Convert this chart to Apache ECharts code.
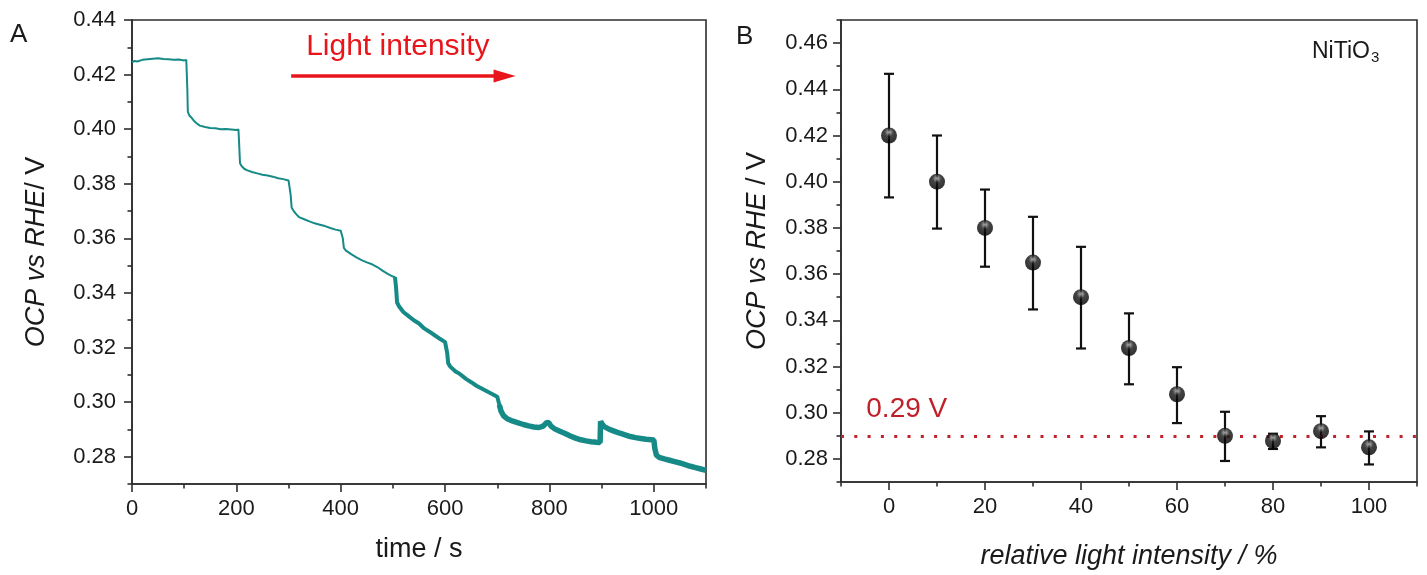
<!DOCTYPE html>
<html>
<head>
<meta charset="utf-8">
<script src="https://cdn.jsdelivr.net/npm/echarts@6/dist/echarts.min.js"></script>
<style>
  html, body { margin: 0; padding: 0; background: #fff; }
  #chart { width: 1427px; height: 575px; }
</style>
</head>
<body>
<div id="chart"></div>
<script>
// ---------- Panel A data: OCP transient ----------
const timeA = [0,5,10,20,30,40,50,60,70,80,90,100,104,106,107,110,115,120,125,130,140,150,160,170,180,190,200,204,
  205,207,210,215,220,230,240,250,260,270,280,290,300,303,
  304,306,310,315,320,330,340,350,360,370,380,390,400,403,
  404,406,410,420,430,440,450,460,470,480,490,500,504,
  506,508,512,520,530,540,550,560,570,580,590,600,603,
  604,606,610,620,627,640,650,660,670,680,690,700,703,
  704,707,712,720,730,740,750,760,770,780,788,795,799,803,810,820,830,840,850,860,870,880,890,897,
  898,900,905,915,925,935,945,955,965,975,985,995,1000,
  1002,1005,1010,1020,1030,1040,1050,1060,1070,1080,1090,1100];
const ocpA = [0.4245,0.4250,0.4248,0.4254,0.4256,0.4258,0.4260,0.4257,0.4256,0.4254,0.4255,0.4252,0.4254,0.4150,0.4064,0.4050,0.4040,0.4028,0.4020,0.4013,0.4008,0.4004,0.4003,0.4000,0.4001,0.3999,0.3997,0.3999,
  0.3960,0.3875,0.3865,0.3855,0.3850,0.3843,0.3838,0.3833,0.3830,0.3826,0.3820,0.3817,0.3812,0.3814,
  0.3760,0.3712,0.3700,0.3688,0.3678,0.3670,0.3662,0.3655,0.3650,0.3645,0.3638,0.3632,0.3628,0.3630,
  0.3600,0.3565,0.3555,0.3542,0.3530,0.3520,0.3512,0.3505,0.3495,0.3482,0.3470,0.3460,0.3458,
  0.3420,0.3365,0.3350,0.3330,0.3315,0.3300,0.3288,0.3270,0.3258,0.3245,0.3232,0.3220,0.3218,
  0.3180,0.3142,0.3130,0.3112,0.3105,0.3085,0.3073,0.3060,0.3050,0.3040,0.3030,0.3020,0.3018,
  0.2990,0.2968,0.2950,0.2938,0.2930,0.2924,0.2918,0.2913,0.2909,0.2907,0.2912,0.2926,0.2924,0.2912,0.2902,0.2893,0.2885,0.2876,0.2868,0.2862,0.2858,0.2855,0.2853,0.2852,
  0.2930,0.2922,0.2910,0.2900,0.2893,0.2886,0.2880,0.2874,0.2870,0.2867,0.2864,0.2862,0.2861,
  0.2830,0.2806,0.2798,0.2792,0.2787,0.2782,0.2777,0.2771,0.2765,0.2760,0.2755,0.2750];

// ---------- Panel B data: OCP vs light intensity ----------
const intensityB = [0,10,20,30,40,50,60,70,80,90,100];
const ocpB       = [0.420,0.400,0.380,0.365,0.350,0.328,0.308,0.290,0.2878,0.292,0.285];
const errHighB   = [0.4467,0.4200,0.3966,0.3848,0.3718,0.3430,0.3197,0.3004,0.2909,0.2985,0.2919];
const errLowB    = [0.3932,0.3797,0.3632,0.3447,0.3278,0.3123,0.2955,0.2791,0.2843,0.2850,0.2776];
const refLevel = 0.29;

// ---------- tick labels ----------
const xTicksA = [0,200,400,600,800,1000];
const xMinorA = [100,300,500,700,900,1100];
const yTicksA = [0.28,0.30,0.32,0.34,0.36,0.38,0.40,0.42,0.44];
const yMinorA = [0.27,0.29,0.31,0.33,0.35,0.37,0.39,0.41,0.43];
const xTicksB = [0,20,40,60,80,100];
const xMinorB = [-10,10,30,50,70,90,110];
const yTicksB = [0.28,0.30,0.32,0.34,0.36,0.38,0.40,0.42,0.44,0.46];
const yMinorB = [0.27,0.29,0.31,0.33,0.35,0.37,0.39,0.41,0.43,0.45,0.47];

// annotation anchors (data space)
const arrowFrom = [305, 0.4195];
const arrowTo   = [714, 0.4195];
const refLabelAt = [3.7, 0.3015];

const FONT = '"Liberation Sans", Arial, Helvetica, sans-serif';
const INK = '#1a1a1a';
const AX = { color: '#2e2e2e', width: 1.6 };
const TEAL = '#168a87';

const ptsA = timeA.map((t, i) => [t, ocpA[i]]);
const seg1 = ptsA.filter(p => p[0] <= 506);
const seg2 = ptsA.filter(p => p[0] >= 504 && p[0] <= 707);
const seg3 = ptsA.filter(p => p[0] >= 704);

function majorAxis(o) {
  return Object.assign({
    type: 'value',
    axisLine: { show: true, onZero: false, lineStyle: AX },
    axisTick: { show: true, inside: false, length: 8, lineStyle: AX, customValues: o.ticks },
    axisLabel: { show: true, margin: o.margin, fontSize: 22, color: INK, fontFamily: FONT,
      customValues: o.ticks, formatter: o.fmt },
    splitLine: { show: false },
    nameLocation: 'middle',
    nameTextStyle: o.nameStyle
  }, o.extra);
}
function minorAxis(o) {
  return Object.assign({
    type: 'value',
    axisLine: { show: false, onZero: false },
    axisTick: { show: true, inside: false, length: 4.5, lineStyle: AX, customValues: o.ticks },
    axisLabel: { show: false },
    splitLine: { show: false }
  }, o.extra);
}

const nameStyleA = { fontSize: 27, color: INK, fontFamily: FONT,
  rich: { i: { fontSize: 27, fontStyle: 'italic', color: INK, fontFamily: FONT },
          n: { fontSize: 27, color: INK, fontFamily: FONT } } };

const chart = echarts.init(document.getElementById('chart'), null, { renderer: 'canvas' });

const option = {
  animation: false,
  backgroundColor: '#fff',
  textStyle: { fontFamily: FONT },
  title: [
    { text: 'A', left: 10, top: 22, padding: 0, textStyle: { fontSize: 26, fontWeight: 'normal', color: INK, fontFamily: FONT } },
    { text: 'B', left: 736, top: 24, padding: 0, textStyle: { fontSize: 26, fontWeight: 'normal', color: INK, fontFamily: FONT } },
    { text: '{a|NiTiO}{b|3}', left: 1312, top: 38, padding: 0,
      textStyle: { fontWeight: 'normal', rich: {
        a: { fontSize: 23, fontWeight: 'normal', color: INK, fontFamily: FONT },
        b: { fontSize: 15, fontWeight: 'normal', color: INK, fontFamily: FONT, padding: [12, 0, 0, 1] } } } }
  ],
  grid: [
    { left: 132, top: 20, width: 574, height: 464, show: true, borderColor: '#2e2e2e', borderWidth: 1.6, backgroundColor: 'transparent' },
    { left: 841, top: 20, width: 576, height: 464, show: true, borderColor: '#2e2e2e', borderWidth: 1.6, backgroundColor: 'transparent' }
  ],
  xAxis: [
    majorAxis({ ticks: xTicksA, margin: 14, fmt: v => String(Math.round(v)), nameStyle: nameStyleA,
      extra: { gridIndex: 0, min: 0, max: 1100, position: 'bottom', name: 'time / s', nameGap: 52 } }),
    minorAxis({ ticks: xMinorA, extra: { gridIndex: 0, min: 0, max: 1100, position: 'bottom' } }),
    majorAxis({ ticks: xTicksB, margin: 14, fmt: v => String(Math.round(v)), nameStyle: nameStyleA,
      extra: { gridIndex: 1, min: -10, max: 110, position: 'bottom',
        name: '{i|relative light intensity / %}', nameGap: 61 } }),
    minorAxis({ ticks: xMinorB, extra: { gridIndex: 1, min: -10, max: 110, position: 'bottom' } })
  ],
  yAxis: [
    majorAxis({ ticks: yTicksA, margin: 16, fmt: v => v.toFixed(2), nameStyle: nameStyleA,
      extra: { gridIndex: 0, min: 0.27, max: 0.44, position: 'left', name: '{i|OCP vs RHE}{n|/ V}', nameGap: 82 } }),
    minorAxis({ ticks: yMinorA, extra: { gridIndex: 0, min: 0.27, max: 0.44, position: 'left' } }),
    majorAxis({ ticks: yTicksB, margin: 13, fmt: v => v.toFixed(2), nameStyle: nameStyleA,
      extra: { gridIndex: 1, min: 0.27, max: 0.47, position: 'left', name: '{i|OCP vs RHE}{n| / V}', nameGap: 70 } }),
    minorAxis({ ticks: yMinorB, extra: { gridIndex: 1, min: 0.27, max: 0.47, position: 'left' } })
  ],
  series: [
    { type: 'line', xAxisIndex: 0, yAxisIndex: 0, data: seg1, showSymbol: false, silent: true,
      lineStyle: { color: TEAL, width: 2 }, z: 3,
      markLine: {
        silent: true, symbol: ['none', 'triangle'], symbolSize: [13, 22],
        lineStyle: { color: '#e8151b', width: 3.5, type: 'solid' },
        label: { show: true, position: 'insideMiddleTop', distance: 14, formatter: 'Light intensity',
          color: '#e8151b', fontSize: 30, fontFamily: FONT },
        emphasis: { disabled: true },
        data: [[{ coord: arrowFrom }, { coord: arrowTo }]]
      } },
    { type: 'line', xAxisIndex: 0, yAxisIndex: 0, data: seg2, showSymbol: false, silent: true,
      lineStyle: { color: TEAL, width: 4 }, z: 3 },
    { type: 'line', xAxisIndex: 0, yAxisIndex: 0, data: seg3, showSymbol: false, silent: true,
      lineStyle: { color: TEAL, width: 5.5 }, z: 3 },
    { type: 'custom', xAxisIndex: 2, yAxisIndex: 2, silent: true, z: 3,
      data: intensityB.map((x, i) => [x, errLowB[i], errHighB[i]]),
      encode: { x: 0, y: [1, 2] },
      renderItem: function (params, api) {
        const x = api.value(0);
        const lo = api.coord([x, api.value(1)]);
        const hi = api.coord([x, api.value(2)]);
        const w = 5;
        const st = { stroke: '#111', lineWidth: 2.2 };
        return { type: 'group', children: [
          { type: 'line', shape: { x1: lo[0], y1: lo[1], x2: hi[0], y2: hi[1] }, style: st },
          { type: 'line', shape: { x1: lo[0] - w, y1: lo[1], x2: lo[0] + w, y2: lo[1] }, style: st },
          { type: 'line', shape: { x1: hi[0] - w, y1: hi[1], x2: hi[0] + w, y2: hi[1] }, style: st }
        ] };
      },
      markLine: {
        silent: true, symbol: ['none', 'none'],
        lineStyle: { color: '#c4222b', width: 3, type: [3, 10.3], cap: 'butt' },
        label: { show: false },
        emphasis: { disabled: true },
        data: [{ yAxis: refLevel }]
      } },
    { type: 'scatter', xAxisIndex: 2, yAxisIndex: 2, silent: true, z: 5,
      data: intensityB.map((x, i) => [x, ocpB[i]]),
      symbol: 'circle', symbolSize: 16,
      itemStyle: { color: { type: 'radial', x: 0.5, y: 0.3, r: 0.6, colorStops: [
        { offset: 0, color: '#d4d4d4' }, { offset: 0.2, color: '#6a6a6a' },
        { offset: 0.45, color: '#161616' }, { offset: 1, color: '#000' } ] } },
      markPoint: {
        silent: true, symbol: 'rect', symbolSize: [1, 1],
        itemStyle: { color: 'rgba(0,0,0,0)' },
        label: { show: true, position: 'inside', formatter: '0.29 V', color: '#c0202a', fontSize: 28, fontFamily: FONT },
        data: [{ coord: refLabelAt }]
      } }
  ]
};
chart.setOption(option);
</script>
</body>
</html>
